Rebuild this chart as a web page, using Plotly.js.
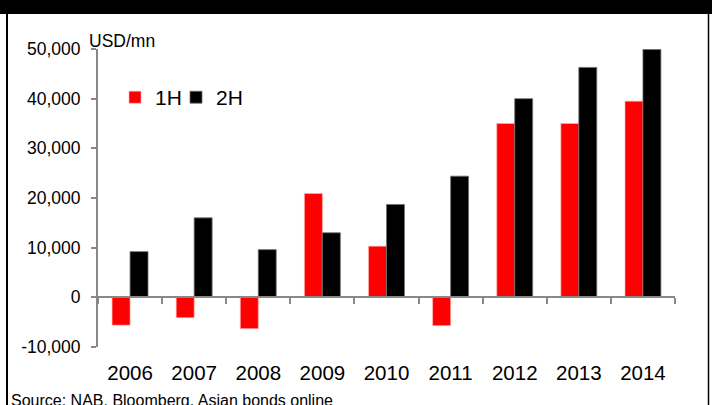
<!DOCTYPE html>
<html>
<head>
<meta charset="utf-8">
<script src="https://cdn.plot.ly/plotly-3.0.1.min.js"></script>
<style>
html,body{margin:0;padding:0;background:#fff;}
#chart{width:712px;height:405px;}
</style>
</head>
<body>
<div id="chart"></div>
<script>
const years = ["2006","2007","2008","2009","2010","2011","2012","2013","2014"];
const h1 = [-5600, -4100, -6300, 20900, 10300, -5700, 35000, 35000, 39500];
const h2 = [9200, 16000, 9600, 13000, 18700, 24400, 40000, 46300, 49900];
const yTickVals = [-10000, 0, 10000, 20000, 30000, 40000, 50000];
const yTickText = ["-10,000", "0", "10,000", "20,000", "30,000", "40,000", "50,000"];
const unitLabel = "USD/mn";
const sourceText = "Source: NAB, Bloomberg, Asian bonds online";

const font = "Liberation Sans, Arial, sans-serif";

const traces = [
  {type:"bar", name:"1H", x:years, y:h1, legend:"legend", marker:{color:"#ff0000", line:{color:"#ffb0b0", width:0.6}}},
  {type:"bar", name:"2H", x:years, y:h2, legend:"legend2", marker:{color:"#000000", line:{color:"#707070", width:0.8}}},
  {type:"scatter", x:years, y:h1.map(()=>null), xaxis:"x2", yaxis:"y", showlegend:false, hoverinfo:"skip"}
];

const legendBase = {orientation:"h", y:0.837, xanchor:"left", yanchor:"middle",
  font:{size:21, family:font}, bgcolor:"rgba(0,0,0,0)", itemwidth:30};

const layout = {
  width:712, height:405,
  margin:{l:98, r:37, t:49, b:58},
  paper_bgcolor:"#fff", plot_bgcolor:"#fff",
  barmode:"group", bargap:0.44, bargroupgap:0,
  font:{family:font, color:"#000"},
  showlegend:true,
  legend:Object.assign({}, legendBase, {x:(115-98)/577}),
  legend2:Object.assign({}, legendBase, {x:(176-98)/577}),
  xaxis:{type:"category", showline:false, showgrid:false, zeroline:false,
         ticks:"outside", ticklen:7, tickcolor:"rgba(0,0,0,0)",
         tickfont:{size:20.5, family:font}, fixedrange:true},
  xaxis2:{type:"category", overlaying:"x", anchor:"free", position:1/6,
          showline:true, linecolor:"#888", linewidth:2, showgrid:false, zeroline:false,
          ticks:"outside", tickson:"boundaries", ticklen:6, tickwidth:2, tickcolor:"#888",
          showticklabels:false, range:[-0.5, 8.5]},
  yaxis:{range:[-10000, 50000], tickvals:yTickVals, ticktext:yTickText,
         showline:true, linecolor:"#888", linewidth:2, showgrid:false, zeroline:false,
         ticks:"outside", ticklen:5, tickwidth:2, tickcolor:"#888",
         ticklabelstandoff:7, tickfont:{size:17.5, family:font}},
  shapes:[
    {type:"rect", xref:"paper", yref:"paper", x0:-98/577, x1:(712-98)/577, y0:(347-0)/298, y1:(347-14)/298,
     fillcolor:"#000", line:{width:0}, layer:"above"},
    {type:"line", xref:"paper", yref:"paper", x0:(7-98)/577, x1:(7-98)/577, y0:(347-14)/298, y1:(347-405)/298,
     line:{color:"#000", width:2}},
    {type:"line", xref:"paper", yref:"paper", x0:(708.5-98)/577, x1:(708.5-98)/577, y0:(347-14)/298, y1:(347-405)/298,
     line:{color:"#000", width:1.5}}
  ],
  annotations:[
    {text:unitLabel, xref:"paper", yref:"paper", x:(87-98)/577, y:(347-29)/298, xanchor:"left", yanchor:"top",
     showarrow:false, font:{size:17.5, family:font}},
    {text:sourceText, xref:"paper", yref:"paper", x:(9-98)/577, y:(347-390)/298, xanchor:"left", yanchor:"top",
     showarrow:false, font:{size:16, family:font}}
  ]
};

Plotly.newPlot("chart", traces, layout, {displayModeBar:false, staticPlot:true});
</script>
</body>
</html>
